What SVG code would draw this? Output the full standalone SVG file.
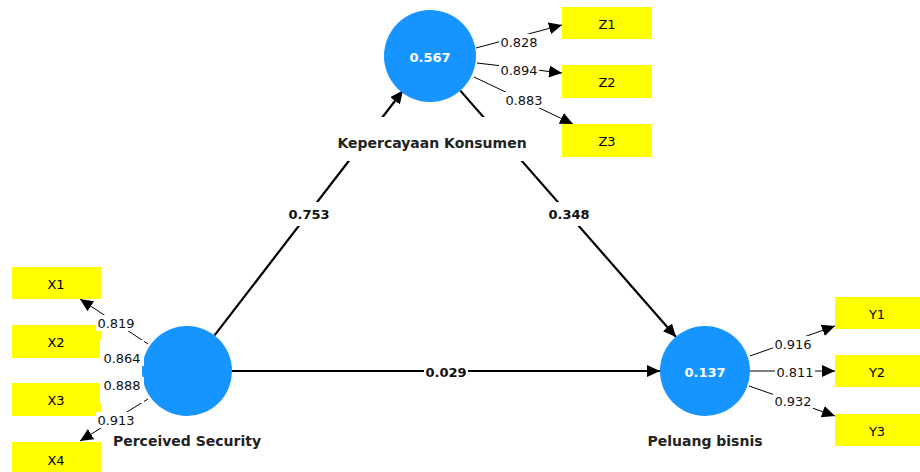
<svg xmlns="http://www.w3.org/2000/svg" width="920" height="472" viewBox="0 0 920 472">
<defs>
<marker id="ah" markerUnits="userSpaceOnUse" markerWidth="14" markerHeight="12" refX="13" refY="6" orient="auto"><path d="M0,0 L13,6 L0,12 z" fill="#000"/></marker>
<style>
.lv{fill:#1694FF}
.mv{fill:#FFFF00}
.t{font-family:"DejaVu Sans",Arial,sans-serif;font-size:13px;fill:#000;text-anchor:middle;dominant-baseline:central}
.name{font-family:"DejaVu Sans",Arial,sans-serif;font-size:14px;font-weight:bold;fill:#222;text-anchor:middle}
.r2{font-family:"DejaVu Sans",Arial,sans-serif;font-size:13px;font-weight:bold;fill:#fff;text-anchor:middle;dominant-baseline:central}
.s{stroke:#000;stroke-width:2.2;fill:none}
.l{stroke:#000;stroke-width:1;fill:none}
.bg{fill:#fff}
.lab{font-family:"DejaVu Sans",Arial,sans-serif;font-size:13px;fill:#111;text-anchor:middle;dominant-baseline:central}
.slab{font-family:"DejaVu Sans",Arial,sans-serif;font-size:13px;font-weight:bold;fill:#111;text-anchor:middle;dominant-baseline:central}
</style>
</defs>
<rect width="920" height="472" fill="#fff"/>
<g id="connectors">
<line class="s" x1="214.5" y1="335.4" x2="403" y2="90.5" marker-end="url(#ah)"/>
<line class="s" x1="460.3" y1="90.6" x2="676" y2="337" marker-end="url(#ah)"/>
<line class="s" x1="232" y1="371" x2="660" y2="371" marker-end="url(#ah)"/>
<line class="l" x1="476" y1="48" x2="562" y2="25" marker-end="url(#ah)"/>
<line class="l" x1="477" y1="63" x2="562" y2="73" marker-end="url(#ah)"/>
<line class="l" x1="474" y1="77" x2="573" y2="124" marker-end="url(#ah)"/>
<line class="l" x1="148" y1="344" x2="80" y2="299" marker-end="url(#ah)"/>
<line class="l" x1="142" y1="358" x2="101" y2="344" marker-end="url(#ah)"/>
<line class="l" x1="142" y1="384" x2="101" y2="398" marker-end="url(#ah)"/>
<line class="l" x1="148" y1="399" x2="80" y2="441" marker-end="url(#ah)"/>
<line class="l" x1="750" y1="356" x2="835" y2="326" marker-end="url(#ah)"/>
<line class="l" x1="750" y1="371" x2="835" y2="371" marker-end="url(#ah)"/>
<line class="l" x1="749" y1="386" x2="835" y2="416" marker-end="url(#ah)"/>
<rect class="bg" x="287" y="202" width="44" height="24"/><text class="slab" x="309" y="214">0.753</text>
<rect class="bg" x="547" y="202" width="44" height="24"/><text class="slab" x="569" y="214">0.348</text>
<rect class="bg" x="424" y="362" width="44" height="20"/><text class="slab" x="446" y="372">0.029</text>
<rect class="bg" x="499" y="34" width="40" height="16"/><text class="lab" x="519" y="42">0.828</text>
<rect class="bg" x="499" y="62" width="40" height="16"/><text class="lab" x="519" y="70">0.894</text>
<rect class="bg" x="504" y="92" width="40" height="16"/><text class="lab" x="524" y="100">0.883</text>
</g>
<g id="kepercayaan">
<circle class="lv" cx="430" cy="56" r="46"/>
<text class="r2" x="430" y="57">0.567</text>
<rect class="bg" x="332" y="117" width="200" height="44"/>
<text class="name" x="432" y="148">Kepercayaan Konsumen</text>
</g>
<g id="perceived">
<circle class="lv" cx="187" cy="371" r="45"/>
<text class="name" x="187" y="446">Perceived Security</text>
</g>
<g id="peluang">
<circle class="lv" cx="705" cy="371" r="45"/>
<text class="r2" x="705" y="372">0.137</text>
<text class="name" x="705" y="446">Peluang bisnis</text>
</g>
<g id="Z1"><rect class="mv" x="562" y="7" width="90" height="32"/><text class="t" x="607" y="24">Z1</text></g>
<g id="Z2"><rect class="mv" x="562" y="65" width="90" height="33"/><text class="t" x="607" y="82">Z2</text></g>
<g id="Z3"><rect class="mv" x="562" y="124" width="90" height="33"/><text class="t" x="607" y="141">Z3</text></g>
<g id="X1"><rect class="mv" x="12" y="267" width="89" height="32"/><text class="t" x="56" y="284">X1</text></g>
<g id="X2"><rect class="mv" x="12" y="325" width="89" height="33"/><text class="t" x="56" y="342">X2</text></g>
<g id="X3"><rect class="mv" x="12" y="383" width="89" height="33"/><text class="t" x="56" y="400">X3</text></g>
<g id="X4"><rect class="mv" x="12" y="442" width="89" height="33"/><text class="t" x="56" y="460">X4</text></g>
<g id="Y1"><rect class="mv" x="835" y="297" width="85" height="32"/><text class="t" x="877" y="314">Y1</text></g>
<g id="Y2"><rect class="mv" x="835" y="355" width="85" height="32"/><text class="t" x="877" y="372">Y2</text></g>
<g id="Y3"><rect class="mv" x="835" y="414" width="85" height="32"/><text class="t" x="877" y="431">Y3</text></g>
<g id="loading-labels">
<rect class="bg" x="96" y="315" width="40" height="16"/><text class="lab" x="116" y="323">0.819</text>
<rect class="bg" x="100" y="340" width="44" height="26"/><text class="lab" x="122" y="358">0.864</text>
<rect class="bg" x="100" y="377" width="44" height="26"/><text class="lab" x="122" y="385">0.888</text>
<rect class="bg" x="96" y="412" width="40" height="16"/><text class="lab" x="116" y="420">0.913</text>
<rect class="bg" x="773" y="336" width="40" height="16"/><text class="lab" x="793" y="344">0.916</text>
<rect class="bg" x="775" y="364" width="40" height="16"/><text class="lab" x="795" y="372">0.811</text>
<rect class="bg" x="773" y="393" width="40" height="16"/><text class="lab" x="793" y="401">0.932</text>
</g>
</svg>
